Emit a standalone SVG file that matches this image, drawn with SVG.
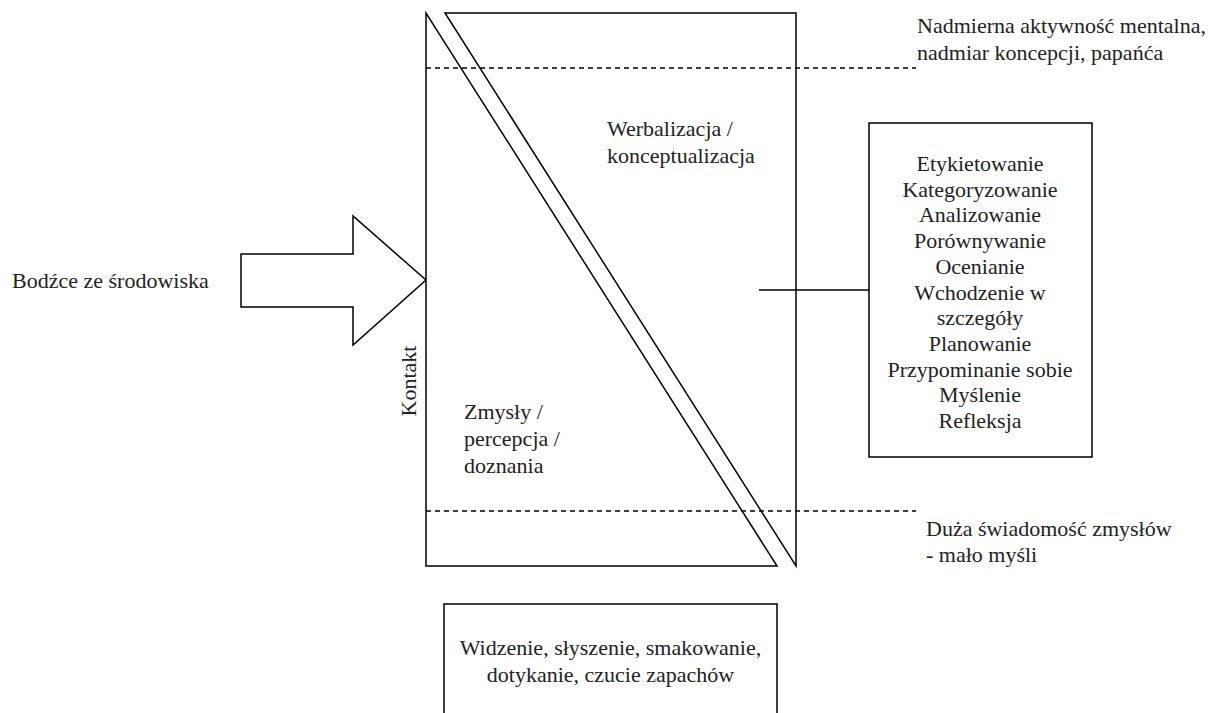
<svg xmlns="http://www.w3.org/2000/svg" width="1215" height="713" viewBox="0 0 1215 713">
<style>
.ln{fill:none;stroke:#000;stroke-width:1.5}
.sh{fill:#fff;stroke:#000;stroke-width:1.5;stroke-linejoin:miter}
.da{fill:none;stroke:#000;stroke-width:1.3;stroke-dasharray:5,4}
.c{text-anchor:middle}
</style>
<rect width="1215" height="713" fill="#fff"/>
<g id="arrow">
<polygon class="sh" points="241,254 353,254 353,216 426,280 353,345 353,307 241,307"/>
</g>
<g id="left-triangle">
<polygon class="sh" points="426,13 426,566 777,566"/>
</g>
<g id="right-triangle">
<polygon class="sh" points="445,13 796,13 796,566"/>
</g>
<g id="connectors">
<line class="da" x1="426" y1="68" x2="916" y2="68"/>
<line class="da" x1="426" y1="511" x2="916" y2="511"/>
<line class="ln" x1="759" y1="290" x2="869" y2="290"/>
</g>
<g font-family="Liberation Serif, Tinos, Times New Roman, serif" font-size="22" fill="#222">
<g id="label-bodzce">
<text x="12" y="288">Bodźce ze środowiska</text>
</g>
<g id="label-kontakt">
<text class="c" transform="translate(416,381) rotate(-90)">Kontakt</text>
</g>
<g id="label-werbalizacja">
<text x="607" y="136">Werbalizacja /</text>
<text x="607" y="163">konceptualizacja</text>
</g>
<g id="label-zmysly">
<text x="464" y="419">Zmysły /</text>
<text x="464" y="446">percepcja /</text>
<text x="464" y="473">doznania</text>
</g>
<g id="label-nadmierna">
<text x="917" y="33">Nadmierna aktywność mentalna,</text>
<text x="917" y="60">nadmiar koncepcji, papańća</text>
</g>
<g id="label-duza">
<text x="926" y="536">Duża świadomość zmysłów</text>
<text x="926" y="562">- mało myśli</text>
</g>
<g id="box-activities">
<rect class="sh" x="869" y="123" width="223" height="334"/>
<text class="c" x="980" y="171">Etykietowanie</text>
<text class="c" x="980" y="196.7">Kategoryzowanie</text>
<text class="c" x="980" y="222.4">Analizowanie</text>
<text class="c" x="980" y="248.1">Porównywanie</text>
<text class="c" x="980" y="273.8">Ocenianie</text>
<text class="c" x="980" y="299.5">Wchodzenie w</text>
<text class="c" x="980" y="325.2">szczegóły</text>
<text class="c" x="980" y="350.9">Planowanie</text>
<text class="c" x="980" y="376.6">Przypominanie sobie</text>
<text class="c" x="980" y="402.3">Myślenie</text>
<text class="c" x="980" y="428">Refleksja</text>
</g>
<g id="box-senses">
<rect class="sh" x="444" y="604" width="333" height="120"/>
<text class="c" x="610.5" y="655">Widzenie, słyszenie, smakowanie,</text>
<text class="c" x="610.5" y="682">dotykanie, czucie zapachów</text>
</g>
</g>
</svg>
